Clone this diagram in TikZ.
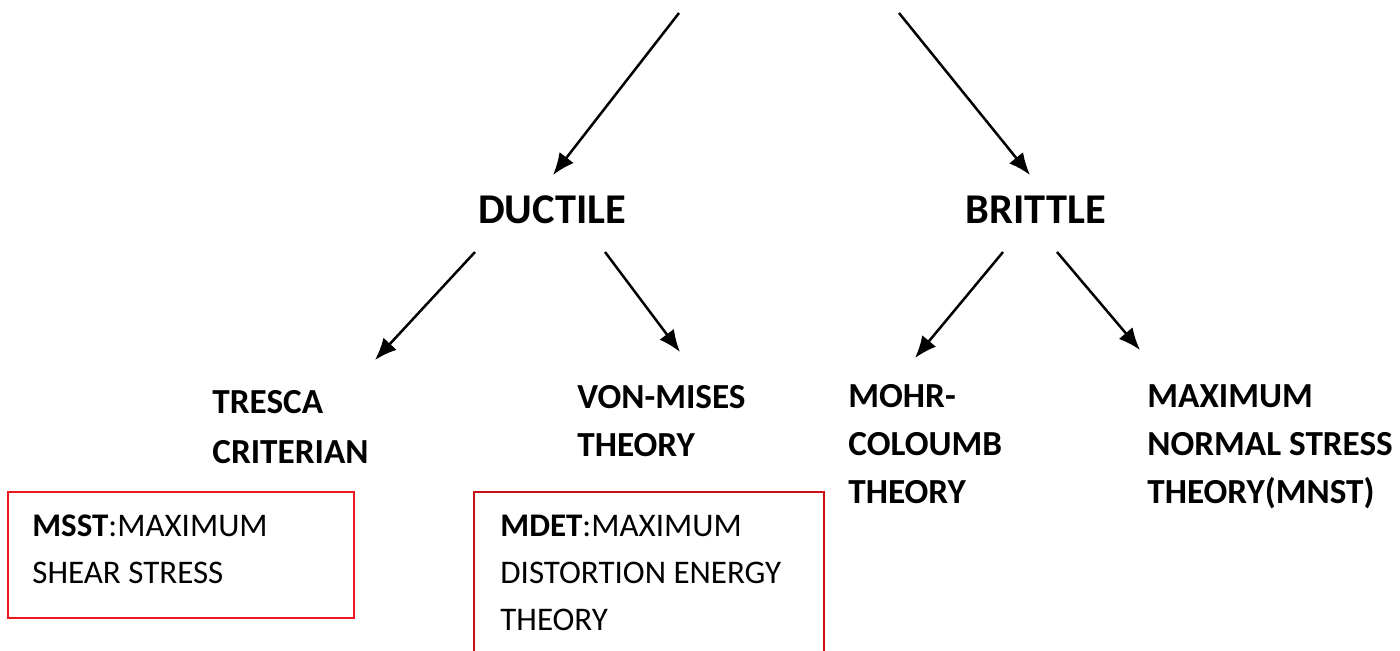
\documentclass[tikz,border=0pt]{standalone}
\usepackage{fontspec}
\setmainfont{Carlito}
\usetikzlibrary{arrows.meta}
\definecolor{boxred}{RGB}{236,22,28}
\definecolor{boxdarkred}{RGB}{200,16,22}
\tikzset{
  head/.style={font=\fontsize{21.2}{25}\selectfont\bfseries, inner sep=0pt},
  theory/.style={font=\fontsize{17.6}{24}\selectfont\bfseries, align=left, anchor=base west, inner sep=0pt},
  note/.style={font=\fontsize{16.5}{23.5}\selectfont, align=left, anchor=base west, inner sep=0pt},
  branch/.style={-{Latex[length=11pt,width=9pt]}, line width=1.25pt},
}

\begin{document}
\begin{tikzpicture}[x=0.5pt, y=-0.5pt]
\useasboundingbox (0,0) rectangle (1400,650);
% material type
\node [head] (ductile) at (552,210) {DUCTILE};
\node [head] (brittle) at (1036,210) {BRITTLE};
% failure theories (placed at last baseline)
\node [theory] (tresca) at (212,463) {TRESCA\\[1pt]CRITERIAN};
\node [theory] (vonmises) at (577,456) {VON-MISES\\THEORY};
\node [theory] (mohr) at (848,503) {MOHR-\\COLOUMB\\THEORY};
\node [theory] (mnst) at (1147,503) {MAXIMUM\\NORMAL STRESS\\THEORY(MNST)};
% notes
\draw [boxred, line width=1.3pt] (8,492) rectangle (354,618);
\node [note] (msst) at (32,583) {\textbf{MSST}:MAXIMUM\\SHEAR STRESS};
\draw [boxdarkred, line width=1.2pt] (474,652) -- (474,492) -- (824,492) -- (824,652);
\node [note] (mdet) at (500,630) {\textbf{MDET}:MAXIMUM\\DISTORTION ENERGY\\THEORY};
% arrow ends
\coordinate (top-l) at (679,13);
\coordinate (top-r) at (899,13);
\coordinate (ductile-in) at (553,175);
\coordinate (brittle-in) at (1030,175);
\coordinate (ductile-l) at (475,252);
\coordinate (ductile-r) at (605,252);
\coordinate (brittle-l) at (1003,252);
\coordinate (brittle-r) at (1057,252);
\coordinate (tresca-in) at (375,360);
\coordinate (vonmises-in) at (680,352);
\coordinate (mohr-in) at (915,358);
\coordinate (mnst-in) at (1140,350);
\draw [branch] (top-l) -- (ductile-in);
\draw [branch] (top-r) -- (brittle-in);
\draw [branch] (ductile-l) -- (tresca-in);
\draw [branch] (ductile-r) -- (vonmises-in);
\draw [branch] (brittle-l) -- (mohr-in);
\draw [branch] (brittle-r) -- (mnst-in);
\end{tikzpicture}
\end{document}
